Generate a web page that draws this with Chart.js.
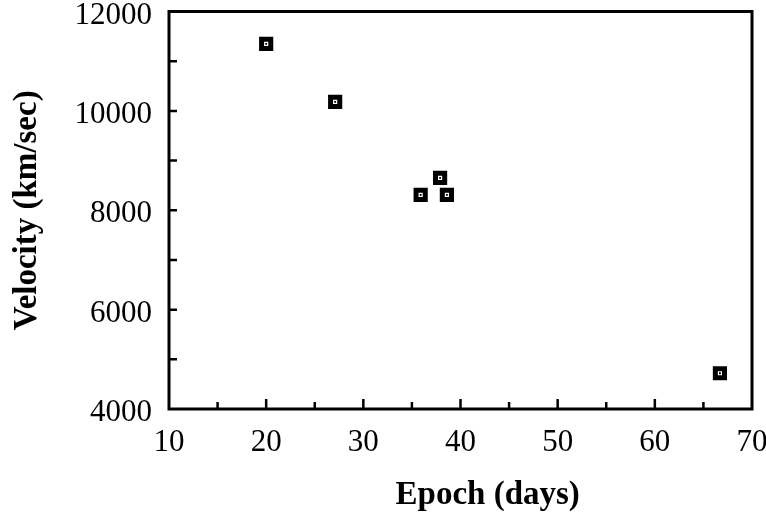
<!DOCTYPE html>
<html>
<head>
<meta charset="utf-8">
<script src="https://cdn.jsdelivr.net/npm/chart.js@4/dist/chart.umd.min.js"></script>
<style>
  html, body { margin: 0; padding: 0; background: #fff; }
  #wrap { width: 766px; height: 519px; }
</style>
</head>
<body>
<div id="wrap"><canvas id="my-chart"></canvas></div>
<script>
const epochDays = [20, 27.1, 35.9, 37.9, 38.6, 66.7];
const velocities = [11350, 10180, 8310, 8650, 8310, 4720];
const xTicks = [10, 20, 30, 40, 50, 60, 70];
const yTicks = [4000, 6000, 8000, 10000, 12000];
const xTitle = "Epoch (days)";
const yTitle = "Velocity (km/sec)";

const points = epochDays.map((d, i) => ({ x: d, y: velocities[i] }));

// frame, inward tick marks and the x title (sits a bit right of centre)
const frameTicks = {
  id: "frameTicks",
  afterDraw(chart) {
    const ctx = chart.ctx;
    const area = chart.chartArea;
    const xs = chart.scales.x;
    const ys = chart.scales.y;
    ctx.save();
    ctx.strokeStyle = "#000";
    ctx.lineWidth = 3;
    ctx.strokeRect(area.left, area.top, area.right - area.left, area.bottom - area.top);
    ctx.lineWidth = 2.5;
    ctx.beginPath();
    for (let v = 15; v < 70; v += 5) {
      const px = xs.getPixelForValue(v);
      const len = v % 10 === 0 ? 10 : 7;
      ctx.moveTo(px, area.bottom);
      ctx.lineTo(px, area.bottom - len);
    }
    for (let v = 5000; v < 12000; v += 1000) {
      const py = ys.getPixelForValue(v);
      ctx.moveTo(area.left, py);
      ctx.lineTo(area.left + 8, py);
    }
    ctx.stroke();

    ctx.fillStyle = "#000";
    ctx.font = "bold 33px 'Liberation Serif'";
    ctx.textAlign = "center";
    ctx.textBaseline = "middle";
    ctx.fillText(xTitle, xs.getPixelForValue(42.8), xs.bottom - 24);
    ctx.restore();
  }
};

const ctx = document.getElementById("my-chart").getContext("2d");
const chart = new Chart(ctx, {
  type: "scatter",
  data: {
    datasets: [
      {
        label: "centre",
        data: points,
        order: 0,
        pointStyle: "rect",
        pointRadius: 1.3,
        pointHoverRadius: 1.3,
        backgroundColor: "#000",
        borderWidth: 0,
      },
      {
        label: "Velocity",
        data: points,
        order: 1,
        pointStyle: "rect",
        pointRadius: 6.5,
        pointHoverRadius: 6.5,
        backgroundColor: "#fff",
        borderColor: "#000",
        borderWidth: 5,
      },
    ],
  },
  options: {
    responsive: true,
    maintainAspectRatio: false,
    animation: false,
    layout: { padding: { top: 11, right: 14, left: 0, bottom: 0 } },
    plugins: { legend: { display: false }, tooltip: { enabled: false } },
    scales: {
      x: {
        type: "linear",
        min: 10,
        max: 70,
        afterBuildTicks: (s) => { s.ticks = xTicks.map((v) => ({ value: v })); },
        afterFit: (s) => { s.height = 110; s.paddingLeft = 0; s.paddingRight = 0; },
        grid: { display: false },
        border: { display: false },
        ticks: {
          color: "#000",
          padding: 7,
          font: { family: "Liberation Serif", size: 31 },
          callback: (v) => String(v),
        },
        title: { display: false },
      },
      y: {
        type: "linear",
        min: 4000,
        max: 12000,
        afterBuildTicks: (s) => { s.ticks = yTicks.map((v) => ({ value: v })); },
        afterFit: (s) => { s.width = 169; s.paddingTop = 0; s.paddingBottom = 0; },
        grid: { display: false },
        border: { display: false },
        ticks: {
          color: "#000",
          padding: 9,
          labelOffset: 4,
          font: { family: "Liberation Serif", size: 31 },
          callback: (v) => String(v),
        },
        title: {
          display: true,
          text: yTitle,
          color: "#000",
          padding: { top: 8, bottom: 0 },
          font: { family: "Liberation Serif", size: 33, weight: "bold" },
        },
      },
    },
  },
  plugins: [frameTicks],
});
</script>
</body>
</html>
